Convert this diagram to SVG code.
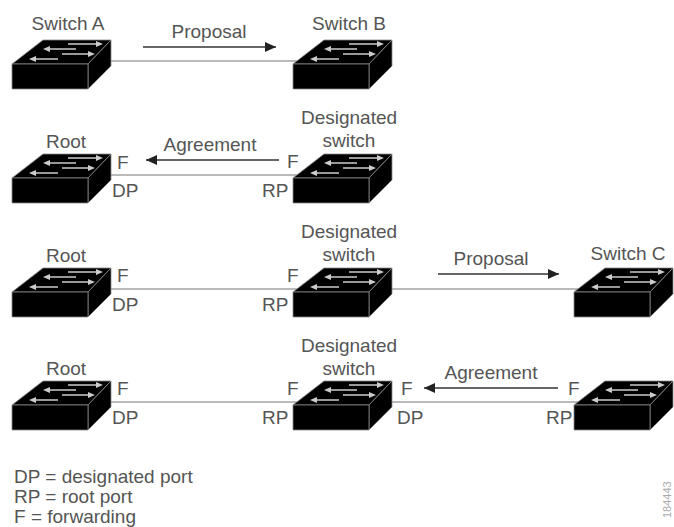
<svg xmlns="http://www.w3.org/2000/svg" width="674" height="527" viewBox="0 0 674 527">
<style>
text{font-family:"Liberation Sans",Arial,sans-serif;font-size:19px;fill:#555}
.m{text-anchor:middle}
.c line{stroke:#777;stroke-width:1}
.c line.a{stroke:#333;stroke-width:1.4;marker-end:url(#ah)}
.body{fill:#000;stroke:#888;stroke-width:.8;stroke-linejoin:round}
.g{stroke:#ccc;stroke-width:1.5;fill:none}
.gh{fill:#ccc}
</style>
<defs>
<marker id="ah" markerUnits="userSpaceOnUse" markerWidth="12" markerHeight="10" refX="11" refY="5" orient="auto"><path d="M0 0L11 5L0 10z" fill="#222"/></marker>
<g id="sw">
<path class="body" d="M0 24L31 0H99L76 24z"/>
<path class="body" d="M76 24L99 0V26L76 49z"/>
<rect class="body" x="0" y="24" width="76" height="25"/>
<path class="g" d="M56 4H84M38 9H64M50 14H76M24 19H46"/>
<path class="gh" d="M84 1L91 4L84 7zM38 6L31 9L38 12zM76 11L83 14L76 17zM24 16L17 19L24 22z"/>
</g>
</defs>
<rect width="674" height="527" fill="#fff"/>
<g id="connectors" class="c">
<line x1="100" y1="61" x2="305" y2="61"/>
<line class="a" x1="143" y1="47" x2="276" y2="47"/>
<line x1="100" y1="175" x2="305" y2="175"/>
<line class="a" x1="279" y1="160" x2="146" y2="160"/>
<line x1="100" y1="289" x2="586" y2="289"/>
<line class="a" x1="438" y1="274" x2="559" y2="274"/>
<line x1="100" y1="402" x2="586" y2="402"/>
<line class="a" x1="558" y1="388" x2="424" y2="388"/>
</g>
<g id="switch-a"><use href="#sw" x="12" y="40"/><text class="m" x="68" y="30">Switch A</text></g>
<g id="switch-b"><use href="#sw" x="293" y="40"/><text class="m" x="349" y="30">Switch B</text></g>
<text class="m" x="209" y="38">Proposal</text>
<g id="root-2"><use href="#sw" x="12" y="154"/><text class="m" x="66" y="148">Root</text><text x="117" y="169">F</text><text x="112" y="197">DP</text></g>
<g id="designated-2"><use href="#sw" x="293" y="154"/><text class="m" x="349" y="124">Designated</text><text class="m" x="349" y="147">switch</text><text x="287" y="168">F</text><text x="262" y="197">RP</text></g>
<text class="m" x="210" y="151">Agreement</text>
<g id="root-3"><use href="#sw" x="12" y="268"/><text class="m" x="66" y="262">Root</text><text x="117" y="282">F</text><text x="112" y="311">DP</text></g>
<g id="designated-3"><use href="#sw" x="293" y="268"/><text class="m" x="349" y="238">Designated</text><text class="m" x="349" y="261">switch</text><text x="287" y="282">F</text><text x="262" y="311">RP</text></g>
<g id="switch-c"><use href="#sw" x="574" y="268"/><text class="m" x="628" y="260">Switch C</text></g>
<text class="m" x="491" y="265">Proposal</text>
<g id="root-4"><use href="#sw" x="12" y="381"/><text class="m" x="66" y="375">Root</text><text x="117" y="395">F</text><text x="112" y="424">DP</text></g>
<g id="designated-4"><use href="#sw" x="293" y="381"/><text class="m" x="349" y="352">Designated</text><text class="m" x="349" y="375">switch</text><text x="287" y="395">F</text><text x="262" y="424">RP</text><text x="401" y="395">F</text><text x="397" y="424">DP</text></g>
<g id="switch-d"><use href="#sw" x="574" y="381"/><text x="568" y="395">F</text><text x="546" y="424">RP</text></g>
<text class="m" x="491" y="379">Agreement</text>
<g id="legend">
<text x="14" y="483">DP = designated port</text>
<text x="14" y="503">RP = root port</text>
<text x="14" y="523">F = forwarding</text>
</g>
<text transform="translate(671 518) rotate(-90)" style="font-size:11px;fill:#aaa">184443</text>
</svg>
